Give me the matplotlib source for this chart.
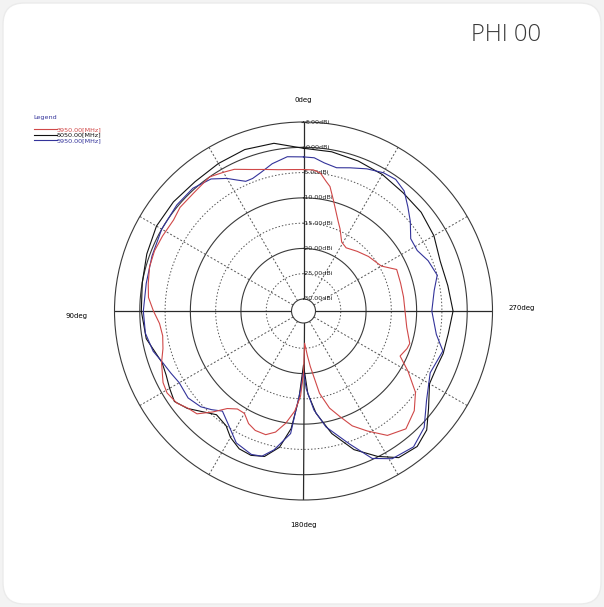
import numpy as np
import matplotlib
matplotlib.use("Agg")
import matplotlib.pyplot as plt
from matplotlib.patches import FancyBboxPatch
from matplotlib.transforms import offset_copy

# ---------------- data ----------------
series_labels = ["3950.00[MHz]", "5050.00[MHz]", "5950.00[MHz]"]
series_colors = ["#d04848", "#111111", "#33339a"]

red_deg = [0, 5, 10, 15, 20, 26, 30, 35, 43, 50, 55, 62, 68, 74, 80, 85, 90, 95, 100,
           105, 110, 117, 121, 126, 130, 134, 138, 142, 146, 150, 154, 158, 163, 167,
           171, 175, 178, 180, 182, 185, 187, 191, 195, 199, 203, 208, 214, 221, 228,
           234, 240, 245, 250, 253, 261, 270, 278, 286, 294, 300, 310, 318, 326, 331,
           336, 339, 345, 348, 350, 353, 356]
red_dbi = [-4.4, -4.3, -4.0, -3.4, -2.6, -1.2, -0.7, 0.0, -0.5, -0.5, -1.0, -0.8, -0.6,
           -0.7, -1.2, -1.6, -2.7, -3.8, -4.1, -3.6, -2.5, -1.2, -0.9, -1.4, -2.5, -3.1,
           -5.5, -7.9, -9.0, -9.0, -7.6, -6.9, -6.8, -7.8, -9.9, -12.5, -15.5, -20.0,
           -26.0, -23.5, -21.3, -15.8, -12.5, -10.3, -7.7, -5.5, -2.7, -1.5, -2.9, -5.0,
           -8.5, -11.3, -10.6, -10.4, -11.7, -12.3, -12.4, -12.4, -12.2, -14.6, -15.6,
           -16.5, -17.3, -16.8, -14.6, -13.3, -9.6, -7.2, -6.4, -4.9, -4.4]

black_deg = [0, 10, 20, 30, 40, 50, 60, 70, 80, 90, 100, 110, 115, 120, 125, 130, 140,
             146, 150, 155, 160, 165, 170, 174, 177, 180, 183, 187, 193, 200, 207, 213,
             220, 226, 232, 240, 247, 253, 261, 270, 280, 290, 300, 310, 320, 330, 340,
             350]
black_dbi = [-0.2, 1.3, 1.6, 1.3, 1.0, 1.2, 1.2, 0.6, 0.0, -0.3, -0.8, -2.6, -2.4, -1.8,
             -1.2, -2.4, -5.6, -5.0, -3.5, -2.3, -2.0, -2.6, -5.0, -9.0, -15.0, -21.7,
             -16.0, -12.0, -7.5, -3.2, -0.1, 2.2, 2.6, 1.5, -1.0, -3.6, -3.8, -3.5, -3.4,
             -2.8, -3.4, -3.6, -2.6, -2.0, -1.8, -1.2, -0.8, -0.4]

blue_deg = [0, 6, 12, 17, 21, 24, 27, 30, 35, 42, 50, 60, 70, 80, 90, 98, 105, 110, 115,
            120, 127, 133, 137, 141, 147, 153, 160, 164, 168, 174, 178, 180, 182, 186,
            191, 199, 205, 211, 219, 226, 234, 244, 254, 260, 270, 279, 285, 292, 298,
            304, 310, 315, 320, 325, 330, 336, 342, 347, 352, 356]
blue_dbi = [-1.9, -1.7, -2.6, -3.7, -4.3, -4.3, -3.3, -2.1, -0.5, 0.3, 0.3, 0.0, -0.5,
            -0.8, -0.7, -0.8, -1.6, -2.7, -3.4, -4.0, -3.8, -4.6, -5.7, -6.9, -5.3, -3.1,
            -2.2, -2.5, -4.3, -8.0, -17.0, -20.5, -17.0, -12.7, -9.0, -4.6, -0.2, 1.7,
            2.2, 0.8, -2.3, -4.5, -3.7, -5.7, -7.0, -6.2, -5.0, -5.8, -6.9, -6.8, -4.8,
            -3.2, -1.4, -0.6, -0.8, -1.6, -2.6, -3.3, -2.8, -2.0]

r_levels = [5, 0, -5, -10, -15, -20, -25, -30]
r_labels = ["5.00dBi", "0.00dBi", "-5.00dBi", "-10.00dBi", "-15.00dBi",
            "-20.00dBi", "-25.00dBi", "-30.00dBi"]
angle_labels = ["0deg", "90deg", "180deg", "270deg"]

# ---------------- figure ----------------
W, H = 604, 607
fig = plt.figure(figsize=(W / 100, H / 100), dpi=100)
fig.patch.set_facecolor("#f3f3f3")
card = FancyBboxPatch((3 / W, 3 / H), 1 - 6 / W, 1 - 6 / H,
                      boxstyle="round,pad=0,rounding_size=0.035",
                      transform=fig.transFigure, facecolor="white",
                      edgecolor="#ebebeb", linewidth=1.0, zorder=-5)
fig.patches.append(card)

fig.text(506 / W, 1 - 35 / H, "PHI 00", ha="center", va="center", fontsize=17,
         family="Open Sans", fontweight="light", color="#3a3a3a")

cx, cy, R = 303.5, 311.0, 189.0
ax = fig.add_axes([(cx - R) / W, (H - cy - R) / H, 2 * R / W, 2 * R / H],
                  projection="polar")
ax.set_zorder(2)
ax.set_facecolor("none")
ax.set_theta_zero_location("N")
ax.set_theta_direction(1)
rmin, rmax = -30, 5
ax.set_ylim(rmin, rmax)
hole_px = 12.0
ax.set_rorigin(rmin - hole_px * (rmax - rmin) / (R - hole_px))
ax.set_xticks([])
ax.set_yticks([])
ax.grid(False)
for sp in ax.spines.values():
    sp.set_color("#3a3a3a")
    sp.set_linewidth(0.8)

grid_c = "#3a3a3a"
th = np.linspace(0, 2 * np.pi, 721)
for lev in [0, -10, -20]:
    ax.plot(th, np.full_like(th, lev), color=grid_c, lw=0.8, zorder=1)
for lev in [-5, -15, -25]:
    ax.plot(th, np.full_like(th, lev), color="#555555", lw=0.7,
            linestyle=(0, (1.5, 2.0)), zorder=1)
for a in [0, 90, 180, 270]:
    ax.plot([np.deg2rad(a)] * 2, [rmin, rmax], color="#2a2a2a", lw=0.9, zorder=1)
for a in [30, 60, 120, 150, 210, 240, 300, 330]:
    ax.plot([np.deg2rad(a)] * 2, [rmin, rmax], color="#555555", lw=0.7,
            linestyle=(0, (2.0, 2.0)), zorder=1)

# radial labels along 0deg
lab_tr = offset_copy(ax.transData, fig=fig, x=-1.0, y=0, units="dots")
for lev, lab in zip(r_levels, r_labels):
    if lev >= 0:
        ax.plot([0], [lev], marker="_", ms=5, mew=0.8, color="#333333",
                zorder=3, clip_on=False)
        ax.text(0, lev, lab, transform=offset_copy(ax.transData, fig=fig, x=2.0,
                y=0, units="dots"), ha="left", va="center", fontsize=4.6,
                color="#222222", zorder=4, clip_on=False)
    else:
        ax.text(0, lev, lab, transform=lab_tr, ha="left", va="center",
                fontsize=4.6, color="#222222", zorder=4, clip_on=False)

# angle labels
fig.text(cx / W, 1 - 100 / H, angle_labels[0], ha="center", va="center", fontsize=5)
fig.text(76 / W, 1 - 316 / H, angle_labels[1], ha="center", va="center", fontsize=5)
fig.text(cx / W, 1 - 525 / H, angle_labels[2], ha="center", va="center", fontsize=5)
fig.text(522 / W, 1 - 308 / H, angle_labels[3], ha="center", va="center", fontsize=5)

# data curves
series = [(black_deg, black_dbi, 1), (blue_deg, blue_dbi, 2), (red_deg, red_dbi, 0)]
handles = [None, None, None]
for deg, val, idx in series:
    d = np.deg2rad(np.array(deg + [deg[0] + 360.0]))
    v = np.array(val + [val[0]])
    ln, = ax.plot(d, v, color=series_colors[idx], lw=0.8, zorder=5)
    handles[idx] = ln

fig.text(33 / W, 1 - 118 / H, "Legend", ha="left", va="center", fontsize=4.6,
         color="#33339a")
leg = fig.legend(handles, series_labels, loc="upper left",
                 bbox_to_anchor=(31 / W, 1 - 123.5 / H), frameon=False,
                 fontsize=4.6, handlelength=3.5,
                 handletextpad=0.0, labelspacing=0.02, borderpad=0,
                 labelcolor="linecolor")

fig.savefig("out.png", dpi=100, facecolor=fig.get_facecolor())
